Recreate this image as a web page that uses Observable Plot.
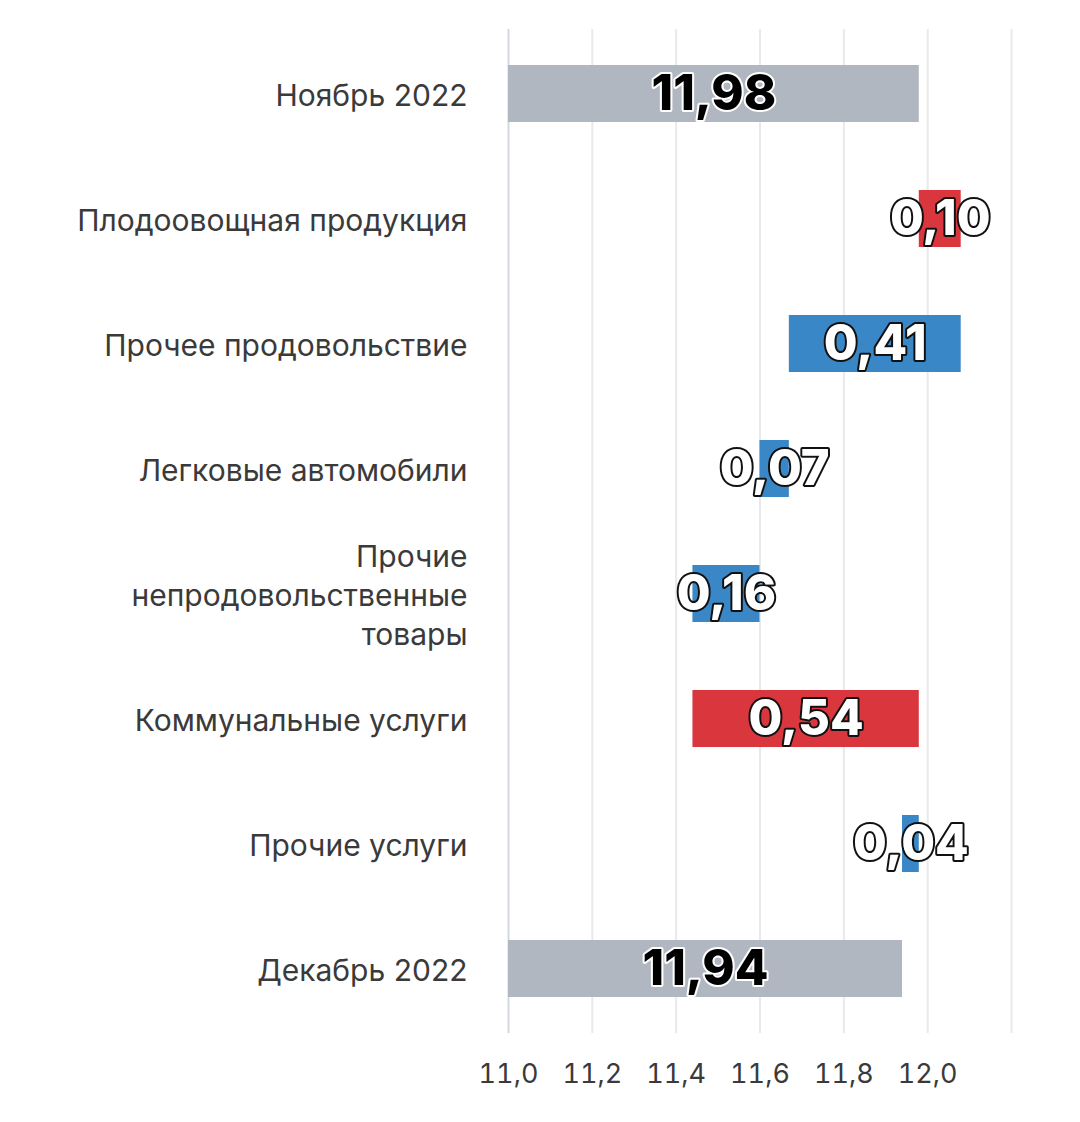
<!DOCTYPE html>
<html>
<head>
<meta charset="utf-8">
<script src="https://cdn.jsdelivr.net/npm/d3@7"></script>
<script src="https://cdn.jsdelivr.net/npm/@observablehq/plot@0.6"></script>
<style>
  html, body { margin: 0; padding: 0; background: #fff; }
  #chart svg { display: block; }
</style>
</head>
<body>
<div id="chart"></div>
<script>
// ---- data ----
const categories = [
  "Ноябрь 2022",
  "Плодоовощная продукция",
  "Прочее продовольствие",
  "Легковые автомобили",
  "Прочие\nнепродовольственные\nтовары",
  "Коммунальные услуги",
  "Прочие услуги",
  "Декабрь 2022"
];
const kinds = ["total", "delta", "delta", "delta", "delta", "delta", "delta", "total"];
// totals are levels, deltas are signed contributions
const values = [11.98, 0.10, -0.41, -0.07, -0.16, 0.54, -0.04, 11.94];
const xTickValues = [11.0, 11.2, 11.4, 11.6, 11.8, 12.0];
const gridValues = [11.0, 11.2, 11.4, 11.6, 11.8, 12.0, 12.2];
const xDomain = [11.0, 12.2];

// ---- build waterfall table ----
const fmt = v => d3.format(".2f")(Math.abs(v)).replace(".", ",");
let level = 0;
const rows = categories.map((c, i) => {
  let x1, x2, type;
  if (kinds[i] === "total") {
    x1 = xDomain[0]; x2 = values[i]; level = values[i]; type = "total";
  } else {
    x1 = level; x2 = level + values[i]; level = x2; type = values[i] >= 0 ? "up" : "down";
  }
  return {cat: c, x1, x2, xm: (x1 + x2) / 2, type, label: fmt(values[i])};
});

const colors = {total: "#b1b7c1", up: "#d9363e", down: "#3a87c8"};
const font = "Inter, 'Noto Sans', sans-serif";

const chart = Plot.plot({
  width: 1080,
  height: 1122,
  marginLeft: 508,
  marginRight: 69,
  marginTop: 29,
  marginBottom: 89,
  style: {fontFamily: font, background: "#fff"},
  x: {domain: xDomain},
  y: {domain: categories, paddingInner: 0.54, paddingOuter: 0.27},
  marks: [
    Plot.ruleX(gridValues, {x: d => d, stroke: d => d === xDomain[0] ? "#d3d7de" : "#e8e9ed", strokeWidth: 2}),
    Plot.barX(rows, {x1: "x1", x2: "x2", y: "cat", fill: d => colors[d.type]}),
    Plot.axisX({ticks: xTickValues, tickSize: 0, tickPadding: 30, fontSize: 27, fill: "#3a3a3a", label: null,
      tickFormat: d => d3.format(".1f")(d).replace(".", ",")}),
    Plot.axisY({tickSize: 0, tickPadding: 41, fontSize: 30, fill: "#3a3a3a", label: null, lineHeight: 1.3}),
    Plot.text(rows, {
      x: "xm", y: "cat", text: "label",
      fontSize: 49, fontWeight: 800,
      fill: d => d.type === "total" ? "#000" : "#fff",
      stroke: d => d.type === "total" ? "#fff" : "#111",
      strokeWidth: 4, paintOrder: "stroke"
    })
  ]
});

document.getElementById("chart").appendChild(chart);
</script>
</body>
</html>
